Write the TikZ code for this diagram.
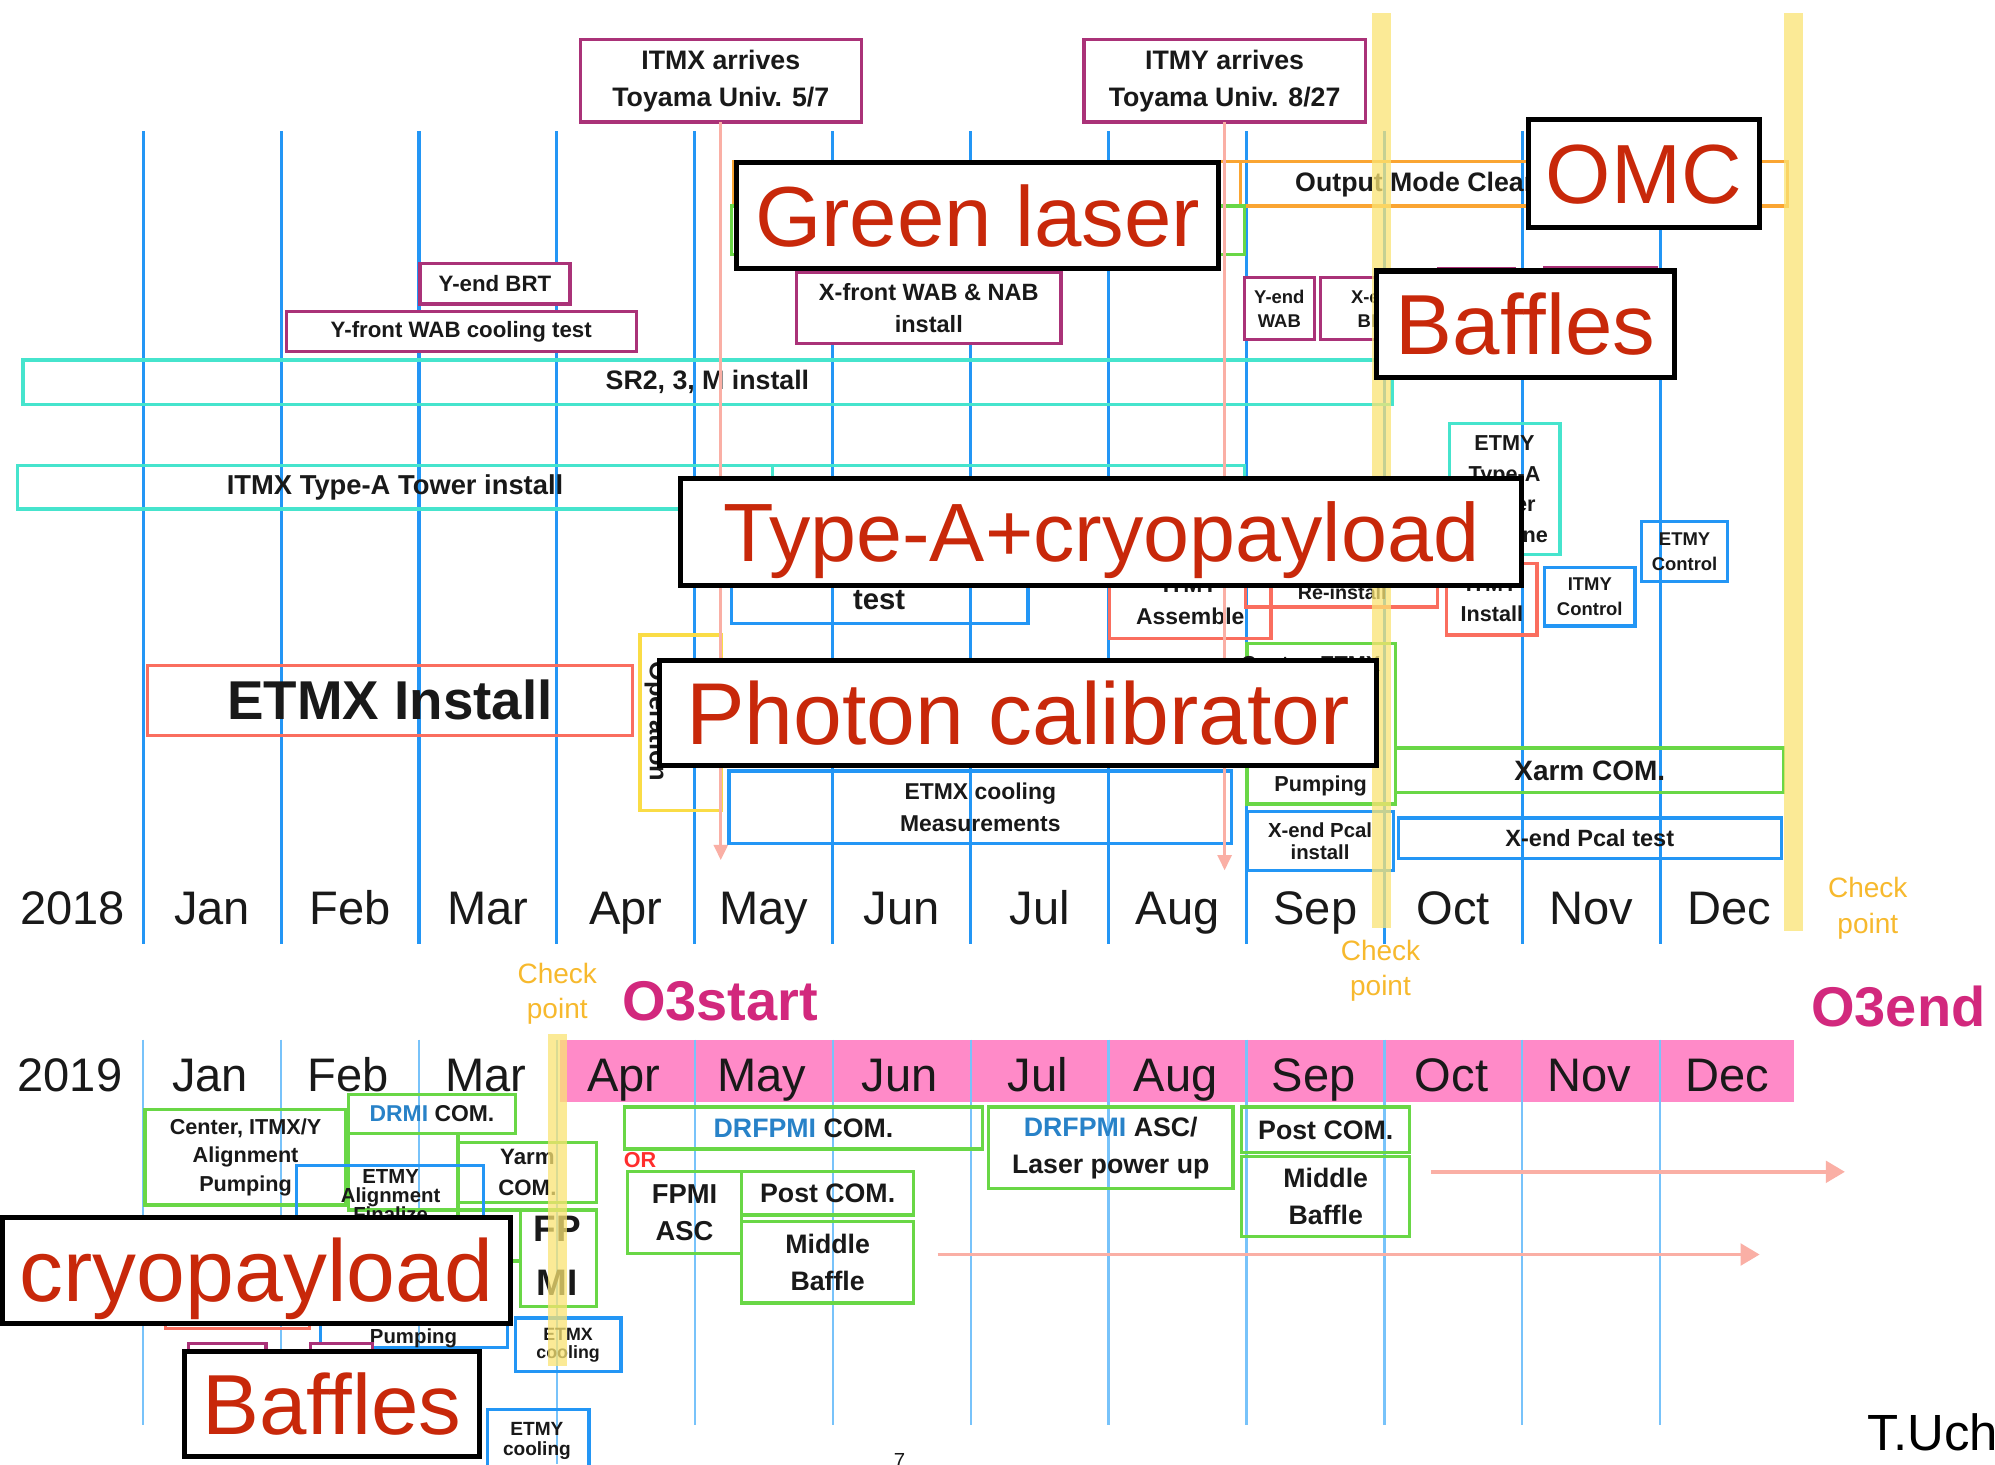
\documentclass[tikz,border=0pt]{standalone}
\usepackage{fontspec}
\setmainfont{Liberation Sans}
\usetikzlibrary{arrows.meta}
\newcommand\fsz[2]{\fontsize{#1}{#2}\selectfont}
\definecolor{mline}{RGB}{35,150,245}
\definecolor{mlinetwo}{RGB}{120,195,250}
\definecolor{cpurple}{RGB}{170,50,120}
\definecolor{ccyan}{RGB}{70,228,205}
\definecolor{cgreen}{RGB}{105,215,70}
\definecolor{cblue}{RGB}{35,150,245}
\definecolor{cred}{RGB}{250,110,95}
\definecolor{corange}{RGB}{250,165,50}
\definecolor{cyellowbox}{RGB}{250,220,70}
\definecolor{ybar}{RGB}{250,228,115}
\definecolor{parrow}{RGB}{250,175,165}
\definecolor{lblred}{RGB}{200,40,10}
\definecolor{pband}{RGB}{255,138,200}
\definecolor{othree}{RGB}{210,40,125}
\definecolor{cpo}{RGB}{247,185,45}
\definecolor{drmib}{RGB}{40,130,200}
\definecolor{orred}{RGB}{255,45,45}
\definecolor{mtext}{RGB}{25,25,25}
\begin{document}
\begin{tikzpicture}[x=1pt,y=-1pt,
  bx/.style={draw, line width=2.6pt, inner sep=0pt, outer sep=0pt, align=center, text=mtext},
  boxP/.style={bx, draw=cpurple, fill=white},
  boxC/.style={bx, draw=ccyan},
  boxG/.style={bx, draw=cgreen},
  boxB/.style={bx, draw=cblue},
  boxR/.style={bx, draw=cred},
  boxO/.style={bx, draw=corange},
  boxY/.style={bx, draw=cyellowbox},
  txt/.style={inner sep=0pt, outer sep=0pt, align=center, text=mtext},
  month/.style={txt, font=\fsz{37}{44}, anchor=base},
  lbl/.style={draw=black, line width=4pt, fill=white, inner sep=0pt, outer sep=0pt, text=lblred, text depth=0pt},
  cp/.style={txt, text=cpo, font=\fsz{22}{28}},
  ymark/.style={fill=ybar, fill opacity=0.75},
  parr/.style={draw=parrow, line width=2.2pt, -{Triangle[length=12pt,width=11pt]}},
  parrb/.style={draw=parrow, line width=2.8pt, -{Triangle[length=15pt,width=17pt]}},
  vl/.style={draw=mline, line width=2.4pt},
  vlb/.style={draw=mlinetwo, line width=1.8pt}
]
\path[use as bounding box] (0,0) rectangle (1568,1151);
\clip (0,0) rectangle (1568,1151);
\fill[white] (0,0) rectangle (1568,1151);

% pink band 2019
\fill[pband] (440,817) rectangle (1410,866);

% month separators
\foreach \k in {0,...,11} {\draw[vl] ({112.5+108.4*\k},103) -- ({112.5+108.4*\k},742);}
\foreach \k in {0,...,11} {\draw[vlb] ({112.5+108.4*\k},817) -- ({112.5+108.4*\k},1120);}
\draw[vlb] (437.7,1120) -- (437.7,1151);

% month labels
\node[month] (y18) at (57,727) {2018};
\foreach \m [count=\i] in {Jan,Feb,Mar,Apr,May,Jun,Jul,Aug,Sep,Oct,Nov,Dec}
  {\node[month] (m18-\i) at ({112.5+108.4*(\i-0.5)},727) {\m};}
\node[month] (y19) at (55,858) {2019};
\foreach \m [count=\i] in {Jan,Feb,Mar,Apr,May,Jun,Jul,Aug,Sep,Oct,Nov,Dec}
  {\node[month] (m19-\i) at ({111+108.4*(\i-0.5)},858) {\m};}

% ---------- 2018 boxes ----------
\node[boxP, minimum width=221pt, minimum height=65pt, font=\bfseries\fsz{21}{29}] (itmxarr) at (566.5,63.5) {ITMX arrives\\Toyama Univ. 5/7};
\node[boxP, minimum width=221pt, minimum height=65pt, font=\bfseries\fsz{21}{29}] (itmyarr) at (962.5,63.5) {ITMY arrives\\Toyama Univ. 8/27};
\node[boxO, minimum width=398pt, minimum height=35pt] (orangeA) at (776,144.5) {};
\node[boxO, minimum width=430pt, minimum height=35pt] (omcbox) at (1190,144.5) {};
\node[txt, anchor=west, font=\bfseries\fsz{21}{25}] (omctxt) at (1018,145) {Output Mode Cleaner};
\node[boxG, minimum width=403pt, minimum height=38pt] (greenbox) at (776.5,181) {};
\node[boxP, minimum width=118pt, minimum height=32pt, font=\bfseries\fsz{17.5}{21}] (yendbrt) at (389,223) {Y-end BRT};
\node[boxP, minimum width=275pt, minimum height=31pt, font=\bfseries\fsz{17.5}{21}] (yfront) at (362.5,260.5) {Y-front WAB cooling test};
\node[boxP, minimum width=208pt, minimum height=56pt, font=\bfseries\fsz{18.5}{25}] (xfront) at (730,242) {X-front WAB \& NAB\\install};
\node[boxP, minimum width=55pt, minimum height=49pt, font=\bfseries\fsz{14.5}{19}] (yendwab) at (1005.5,242.5) {Y-end\\WAB};
\node[boxP, minimum width=88pt, minimum height=49pt, font=\bfseries\fsz{14.5}{19}] (xendbrt) at (1082,242.5) {X-end\\BRT};
\node[boxP, minimum width=59pt, minimum height=49pt] (purA) at (1160.5,235.5) {};
\node[boxP, minimum width=88pt, minimum height=50pt] (purB) at (1258,235) {};
\node[boxC, minimum width=1076pt, minimum height=35pt, font=\bfseries\fsz{21}{25}] (sr2) at (556,300.5) {SR2, 3, M install};
\node[boxC, minimum width=593pt, minimum height=34pt, font=\bfseries\fsz{21.5}{25}] (itmxta) at (310.5,383) {ITMX Type-A Tower install};
\node[boxC, minimum width=371pt, minimum height=34pt] (cyanB) at (792.5,383) {};
\node[boxC, minimum width=87pt, minimum height=103pt, font=\bfseries\fsz{17}{24}] (etmyta) at (1182.5,384.5) {ETMY\\Type-A\\Tower\\Machine};
\node[boxB, minimum width=233pt, minimum height=60pt] (itmxtest) at (691.5,460) {};
\node[txt, font=\bfseries\fsz{23}{27}] (testtxt) at (691,472) {test};
\node[boxR, minimum width=127pt, minimum height=60pt, font=\bfseries\fsz{18}{25}] (itmyasm) at (935.5,472) {ITMY\\Assemble};
\node[boxR, minimum width=151pt, minimum height=47pt] (reinst) at (1054.5,453.5) {};
\node[txt, font=\bfseries\fsz{15.5}{19}] (retxt) at (1055,466) {Re-install};
\node[boxR, minimum width=71pt, minimum height=56pt, font=\bfseries\fsz{17}{23}] (itmyinst) at (1172.5,471) {ITMY\\Install};
\node[boxB, minimum width=71pt, minimum height=46pt, font=\bfseries\fsz{14.5}{19}] (itmyctl) at (1249.5,469) {ITMY\\Control};
\node[boxB, minimum width=68pt, minimum height=47pt, font=\bfseries\fsz{14.5}{20}] (etmyctl) at (1324,433.5) {ETMY\\Control};
\node[boxY, minimum width=64pt, minimum height=138pt] (opbox) at (535,568) {};
\node[txt, rotate=-90, font=\bfseries\fsz{20}{24}] (optxt) at (516,567) {Operation};
\node[boxR, minimum width=381pt, minimum height=55pt, font=\bfseries\fsz{43}{50}] (etmxinst) at (306.5,550.5) {ETMX Install};
\node[boxG, minimum width=117pt, minimum height=126pt] (cntr18) at (1038.5,569) {};
\node[txt, font=\bfseries\fsz{17}{22}] (cntr18a) at (1030,523) {Center, ETMX};
\node[txt, font=\bfseries\fsz{17}{22}] (cntr18b) at (1038,618) {Pumping};
\node[boxG, minimum width=305pt, minimum height=35pt, font=\bfseries\fsz{22}{26}] (xarmcom) at (1249.5,605.5) {Xarm COM.};
\node[boxB, minimum width=115pt, minimum height=46pt, font=\bfseries\fsz{16}{17}] (xendpcal) at (1037.5,661) {X-end Pcal\\install};
\node[boxB, minimum width=301pt, minimum height=32pt, font=\bfseries\fsz{18.5}{22}] (xendtest) at (1249.5,659) {X-end Pcal test};
\node[boxB, minimum width=395pt, minimum height=57pt, font=\bfseries\fsz{18}{25}] (etmxcool) at (770.5,634.5) {ETMX cooling\\Measurements};

% ---------- 2019 boxes ----------
\node[boxG, minimum width=158pt, minimum height=75pt, font=\bfseries\fsz{17}{22.5}] (cntr19) at (193,909.5) {Center, ITMX/Y\\Alignment\\Pumping};
\node[boxG, minimum width=131pt, minimum height=31pt, font=\bfseries\fsz{18}{22}] (drmi) at (339.5,875.5) {\textcolor{drmib}{DRMI} COM.};
\node[boxG, minimum width=86pt, minimum height=60pt] (grnblank) at (317,921) {};
\node[boxG, minimum width=109pt, minimum height=47pt, font=\bfseries\fsz{17.5}{24}] (yarm) at (414.5,921.5) {Yarm\\COM.};
\node[boxG, minimum width=49pt, minimum height=40pt] (grnsmall) at (384.5,971) {};
\node[boxG, minimum width=60pt, minimum height=76pt] (fpmibox) at (439,989) {};
\node[txt, font=\bfseries\fsz{29}{42}] (fpmitxt) at (438,987) {FP\\MI};
\node[boxB, minimum width=147pt, minimum height=84pt] (etmyal) at (306.5,958) {};
\node[txt, font=\bfseries\fsz{16}{15}] (etmyaltxt) at (307,940) {ETMY\\Alignment\\Finalize};
\node[boxR, minimum width=113pt, minimum height=54pt] (redhid) at (186.5,1017) {};
\node[boxB, minimum width=147pt, minimum height=59pt] (finpump) at (325.5,1029.5) {};
\node[txt, font=\bfseries\fsz{16}{17}] (finpumptxt) at (325,1043.5) {Finalize\\Pumping};
\node[boxP, minimum width=61pt, minimum height=44pt] (purC) at (178.5,1078) {};
\node[boxP, minimum width=49pt, minimum height=44pt] (purD) at (268.5,1078) {};
\node[boxB, minimum width=83pt, minimum height=42pt, font=\bfseries\fsz{14}{14}] (etmxcool19) at (446.5,1057) {ETMX\\cooling};
\node[boxB, minimum width=80pt, minimum height=62pt] (etmycool19) at (423,1139) {};
\node[txt, font=\bfseries\fsz{15}{15}] (etmycooltxt) at (422,1132.5) {ETMY\\cooling};
\node[txt, text=orred, font=\bfseries\fsz{17}{20}] (ortxt) at (503,912) {OR};
\node[boxG, minimum width=281pt, minimum height=33pt, font=\bfseries\fsz{21}{25}] (drfpmicom) at (631.5,886.5) {\textcolor{drmib}{DRFPMI} COM.};
\node[boxG, minimum width=192pt, minimum height=64pt, font=\bfseries\fsz{21}{29}] (drfpmiasc) at (873,902) {\textcolor{drmib}{DRFPMI} ASC/\\Laser power up};
\node[boxG, minimum width=132pt, minimum height=36pt, font=\bfseries\fsz{21}{25}] (postcomS) at (1042,888) {Post COM.};
\node[boxG, minimum width=132pt, minimum height=63pt, font=\bfseries\fsz{21}{29}] (midbafS) at (1042,940.5) {Middle\\Baffle};
\node[boxG, minimum width=90pt, minimum height=64pt, font=\bfseries\fsz{21.5}{29}] (fpmiasc) at (538,953) {FPMI\\ASC};
\node[boxG, minimum width=135pt, minimum height=34pt, font=\bfseries\fsz{21}{25}] (postcomM) at (650.5,938) {Post COM.};
\node[boxG, minimum width=135pt, minimum height=64pt, font=\bfseries\fsz{21}{29}] (midbafM) at (650.5,992) {Middle\\Baffle};

% ---------- arrows ----------
\coordinate (aone) at (566.5,676);
\coordinate (atwo) at (962.5,684);
\draw[parr] (itmxarr.south) -- (aone);
\draw[parr] (itmyarr.south) -- (atwo);
\coordinate (athreeS) at (1125,921);
\coordinate (athreeE) at (1450,921);
\coordinate (afourS) at (737,986);
\coordinate (afourE) at (1383,986);
\draw[parrb] (athreeS) -- (athreeE);
\draw[parrb] (afourS) -- (afourE);

% ---------- yellow check-point bars ----------
\fill[ymark] (1078,10) rectangle (1093,729);
\fill[ymark] (1402,10) rectangle (1417,732);
\fill[ymark] (431,813) rectangle (446,1074);

% ---------- texts ----------
\node[cp] (cpa) at (1468,714) {Check\\point};
\node[cp] (cpb) at (1085,763) {Check\\point};
\node[cp] (cpc) at (438,781) {Check\\point};
\node[txt, text=othree, font=\bfseries\fsz{44}{50}] (othreestart) at (566,787) {O3start};
\node[txt, text=othree, font=\bfseries\fsz{44}{50}] (othreeend) at (1492,791) {O3end};

% ---------- overlay labels ----------
\node[lbl, minimum width=379pt, minimum height=83pt, font=\fsz{67}{80}, text height=48pt] (lgreen) at (768.5,169.5) {Green laser};
\node[lbl, minimum width=182pt, minimum height=85pt, font=\fsz{66}{80}, text height=47pt] (lomc) at (1292,136.5) {OMC};
\node[lbl, minimum width=234pt, minimum height=84pt, font=\fsz{67}{80}, text height=48pt] (lbafa) at (1199,255) {Baffles};
\node[lbl, minimum width=661pt, minimum height=84pt, font=\fsz{65}{80}, text height=46.5pt] (ltypea) at (865.5,418) {Type-A+cryopayload};
\node[lbl, minimum width=564pt, minimum height=83pt, font=\fsz{69}{80}, text height=49.4pt] (lphoton) at (800,560.5) {Photon calibrator};
\node[lbl, minimum width=399pt, minimum height=83pt, font=\fsz{69}{80}, text height=49.4pt] (lcryo) at (201.5,998.5) {cryopayload};
\node[lbl, minimum width=232pt, minimum height=83pt, font=\fsz{67}{80}, text height=48pt] (lbafb) at (261,1103.5) {Baffles};

\node[txt, anchor=base west, text=black, font=\fsz{40}{48}] (author) at (1468,1140) {T.Uchiyama};
\node[txt, anchor=north, font=\fsz{16}{19}] (pagenum) at (707,1142) {7};
\end{tikzpicture}
\end{document}
